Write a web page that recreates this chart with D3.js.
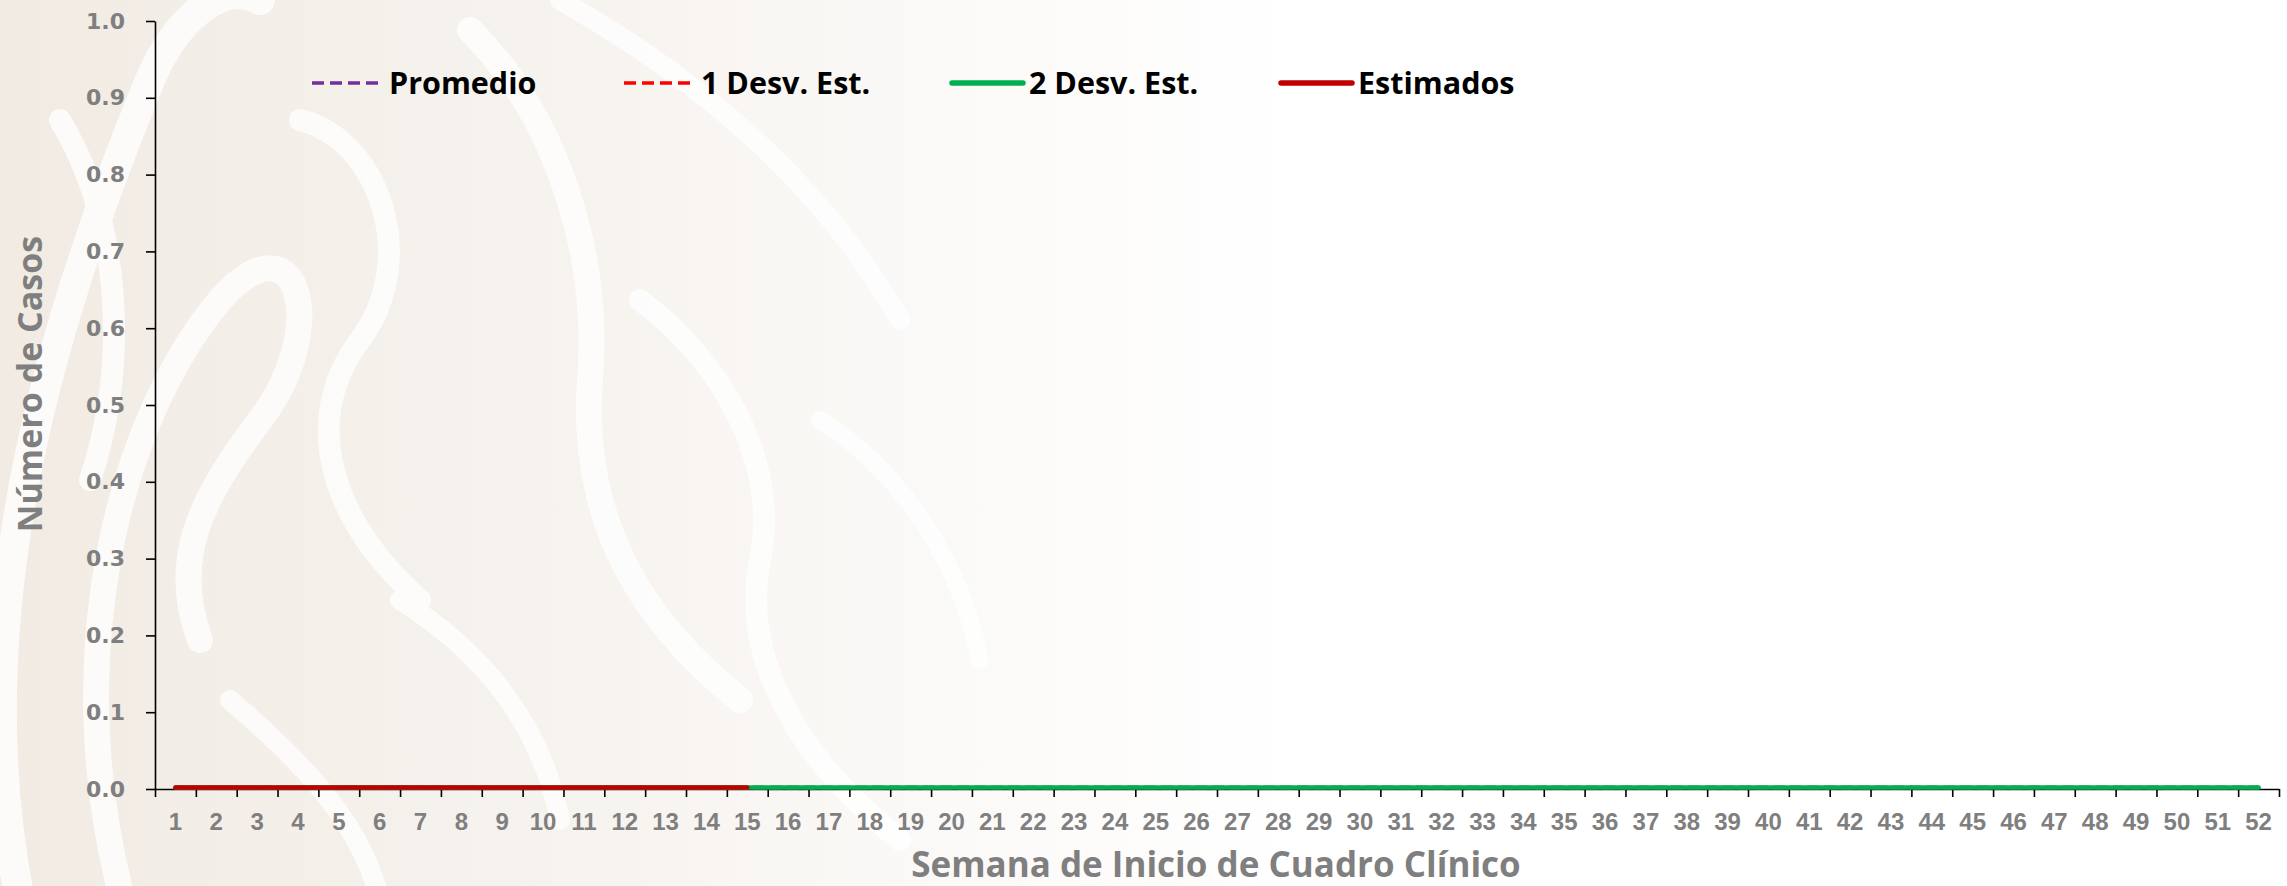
<!DOCTYPE html>
<html>
<head>
<meta charset="utf-8">
<script src="https://cdn.jsdelivr.net/npm/d3@7"></script>
<style>
  html, body { margin: 0; padding: 0; background: #ffffff; }
  svg { display: block; }
</style>
</head>
<body>
<svg id="chart" width="2287" height="886"></svg>
<script>
// ---------------- DATA ----------------
const weeks = ["1","2","3","4","5","6","7","8","9","10","11","12","13","14","15","16","17","18","19","20","21","22","23","24","25","26","27","28","29","30","31","32","33","34","35","36","37","38","39","40","41","42","43","44","45","46","47","48","49","50","51","52"];
const promedio = [0,0,0,0,0,0,0,0,0,0,0,0,0,0,0,0,0,0,0,0,0,0,0,0,0,0,0,0,0,0,0,0,0,0,0,0,0,0,0,0,0,0,0,0,0,0,0,0,0,0,0,0];
const desv1    = [0,0,0,0,0,0,0,0,0,0,0,0,0,0,0,0,0,0,0,0,0,0,0,0,0,0,0,0,0,0,0,0,0,0,0,0,0,0,0,0,0,0,0,0,0,0,0,0,0,0,0,0];
const desv2    = [0,0,0,0,0,0,0,0,0,0,0,0,0,0,0,0,0,0,0,0,0,0,0,0,0,0,0,0,0,0,0,0,0,0,0,0,0,0,0,0,0,0,0,0,0,0,0,0,0,0,0,0];
const estimados = [0,0,0,0,0,0,0,0,0,0,0,0,0,0,0];
const yTicks = [0, 0.1, 0.2, 0.3, 0.4, 0.5, 0.6, 0.7, 0.8, 0.9, 1.0];
const seriesNames = ["Promedio", "1 Desv. Est.", "2 Desv. Est.", "Estimados"];
const xTitle = "Semana de Inicio de Cuadro Clínico";
const yTitle = "Número de Casos";

// ---------------- STYLE / LAYOUT ----------------
const styles = [
  { color: "#7030a0", width: 3.5, dash: "11,6" },
  { color: "#ff0000", width: 3.5, dash: "11,6" },
  { color: "#00b050", width: 4.5, dash: null },
  { color: "#c00000", width: 4.5, dash: null }
];
const legendX = [312, 624, 952, 1281];
const legendLineLen = 71;
const legendY = 83;
const plot = { left: 155, right: 2279, top: 21, bottom: 789 };
const grey = "#7f7f7f";

const svg = d3.select("#chart");

// ---------------- BACKGROUND WATERMARK ----------------
const defs = svg.append("defs");
const grad = defs.append("linearGradient").attr("id", "bgGrad")
  .attr("x1", 0).attr("x2", 1).attr("y1", 0).attr("y2", 0);
grad.append("stop").attr("offset", "0%").attr("stop-color", "#f1ebe3");
grad.append("stop").attr("offset", "35%").attr("stop-color", "#f5f1ec");
grad.append("stop").attr("offset", "70%").attr("stop-color", "#fbf9f7");
grad.append("stop").attr("offset", "100%").attr("stop-color", "#ffffff");
svg.append("rect").attr("x", 0).attr("y", 0).attr("width", 1300).attr("height", 886)
  .attr("fill", "url(#bgGrad)");

const wm = svg.append("g").attr("fill", "none").attr("stroke", "#ffffff")
  .attr("stroke-linecap", "round").attr("opacity", 0.8);
const swirls = [
  "M20,900 C-40,600 60,300 150,80 C180,10 230,-20 260,0",
  "M120,890 C60,650 120,420 220,300 C300,210 330,330 260,420 C200,500 170,560 200,640",
  "M300,120 C380,140 420,260 360,340 C300,420 330,520 420,600",
  "M470,30 C560,120 600,260 590,380 C580,520 640,620 740,700",
  "M560,0 C700,80 820,180 900,320",
  "M640,300 C720,360 780,460 760,560 C740,660 800,760 900,840",
  "M230,700 C300,760 360,820 380,900",
  "M400,600 C480,650 540,720 560,820",
  "M820,420 C900,470 960,560 980,660",
  "M60,120 C120,220 130,360 90,480"
];
wm.selectAll("path").data(swirls).join("path")
  .attr("d", d => d)
  .attr("stroke-width", (d, i) => [30, 26, 22, 26, 20, 22, 20, 20, 18, 22][i]);

// ---------------- SCALES ----------------
const xBand = d3.scaleBand().domain(weeks).range([plot.left, plot.right]).paddingInner(0).paddingOuter(0);
const xEdge = d3.scaleLinear().domain([0, weeks.length]).range([plot.left, plot.right]);
const y = d3.scaleLinear().domain([0, 1]).range([plot.bottom, plot.top]);
const xc = (i) => xBand(weeks[i]) + xBand.bandwidth() / 2;

// ---------------- AXES ----------------
const yAxis = svg.append("g").attr("transform", `translate(${plot.left},0)`)
  .call(d3.axisLeft(y).tickValues(yTicks).tickFormat(d3.format(".1f")).tickSize(9).tickPadding(21).tickSizeOuter(0));
yAxis.select(".domain").attr("stroke", "#000").attr("stroke-width", 1.6);
yAxis.selectAll(".tick line").attr("stroke", "#000").attr("stroke-width", 1.6);
yAxis.selectAll(".tick text")
  .attr("fill", grey)
  .style("font-family", "'DejaVu Sans', Verdana, sans-serif")
  .style("font-weight", "bold")
  .style("font-size", "22px");

const xTickAxis = svg.append("g").attr("transform", `translate(0,${plot.bottom})`)
  .call(d3.axisBottom(xEdge).tickValues(d3.range(weeks.length + 1)).tickFormat("").tickSize(8).tickSizeOuter(0));
xTickAxis.select(".domain").attr("stroke", "#000").attr("stroke-width", 1.6);
xTickAxis.selectAll(".tick line").attr("stroke", "#000").attr("stroke-width", 1.6);

const xLabelAxis = svg.append("g").attr("transform", `translate(0,${plot.bottom})`)
  .call(d3.axisBottom(xBand).tickSize(0).tickPadding(24));
xLabelAxis.select(".domain").remove();
xLabelAxis.selectAll(".tick text")
  .attr("fill", grey)
  .style("font-family", "'Liberation Sans', Arial, sans-serif")
  .style("font-weight", "bold")
  .style("font-size", "24px");

// ---------------- LINES ----------------
const line = d3.line().x((d, i) => xc(i)).y(d => y(d));
const allSeries = [promedio, desv1, desv2, estimados];
svg.append("g").selectAll("path").data(allSeries).join("path")
  .attr("d", d => line(d))
  .attr("fill", "none")
  .attr("stroke", (d, i) => styles[i].color)
  .attr("stroke-width", (d, i) => styles[i].width)
  .attr("stroke-dasharray", (d, i) => styles[i].dash)
  .attr("stroke-linecap", "round")
  .attr("transform", "translate(0,-1.5)");

// ---------------- LEGEND ----------------
const legend = svg.append("g");
const items = legend.selectAll("g").data(seriesNames).join("g")
  .attr("transform", (d, i) => `translate(${legendX[i]},${legendY})`);
items.append("line")
  .attr("x1", 0).attr("x2", legendLineLen).attr("y1", 0).attr("y2", 0)
  .attr("stroke", (d, i) => styles[i].color)
  .attr("stroke-width", (d, i) => styles[i].dash ? 3.5 : 5.5)
  .attr("stroke-dasharray", (d, i) => styles[i].dash ? "12,6" : null)
  .attr("stroke-linecap", (d, i) => styles[i].dash ? "butt" : "round");
items.append("text")
  .attr("x", legendLineLen + 6).attr("y", 10.5)
  .text(d => d)
  .attr("fill", "#000")
  .style("font-family", "'Open Sans', sans-serif")
  .style("font-weight", "bold")
  .style("font-size", "30.5px");

// ---------------- TITLES ----------------
svg.append("text")
  .attr("x", 1216).attr("y", 877)
  .attr("text-anchor", "middle")
  .attr("fill", grey)
  .style("font-family", "'Open Sans', sans-serif")
  .style("font-weight", "bold")
  .style("font-size", "35px")
  .text(xTitle);

svg.append("text")
  .attr("transform", "translate(42,384) rotate(-90)")
  .attr("text-anchor", "middle")
  .attr("fill", grey)
  .style("font-family", "'Open Sans', sans-serif")
  .style("font-weight", "bold")
  .style("font-size", "34px")
  .text(yTitle);
</script>
</body>
</html>
